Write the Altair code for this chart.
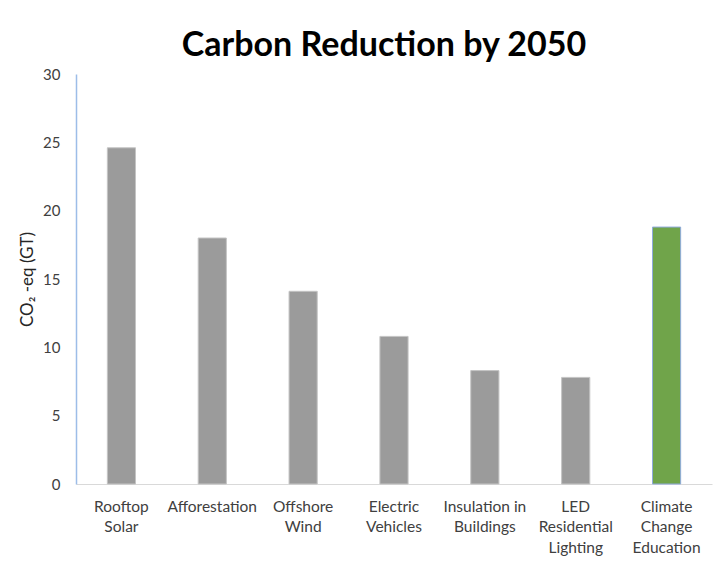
import altair as alt
import pandas as pd

categories = [
    "Rooftop|Solar",
    "Afforestation",
    "Offshore|Wind",
    "Electric|Vehicles",
    "Insulation in|Buildings",
    "LED|Residential|Lighting",
    "Climate|Change|Education",
]
values = [24.6, 18.0, 14.1, 10.8, 8.3, 7.8, 18.8]
groups = ["other", "other", "other", "other", "other", "other", "education"]
y_ticks = [0, 5, 10, 15, 20, 25, 30]

df = pd.DataFrame({"solution": categories, "co2": values, "group": groups})

FONT = "Lato"

chart = (
    alt.Chart(df)
    .mark_bar(strokeWidth=1)
    .encode(
        x=alt.X(
            "solution:N",
            sort=None,
            scale=alt.Scale(paddingInner=0.69, paddingOuter=0.345),
            axis=alt.Axis(
                title=None,
                labelAngle=0,
                labelExpr="split(datum.label, '|')",
                labelLineHeight=20.5,
                labelPadding=15,
                labelBaseline="top",
                labelOverlap=False,
                ticks=False,
                domainColor="#D9D9D9",
                domainWidth=1,
                labelFontSize=15.5,
                labelColor="#404040",
                labelFont=FONT,
            ),
        ),
        y=alt.Y(
            "co2:Q",
            scale=alt.Scale(domain=[0, 30], nice=False),
            axis=alt.Axis(
                title="CO₂ -eq (GT)",
                values=y_ticks,
                grid=False,
                ticks=False,
                domainColor="#9DBDE8",
                domainWidth=1.5,
                labelPadding=16,
                labelFontSize=15,
                labelColor="#404040",
                labelFont=FONT,
                titleFont=FONT,
                titleFontSize=17,
                titleFontWeight="normal",
                titleColor="#262626",
                titleX=-49,
                titleY=205,
                titleAngle=270,
                titleAlign="center",
                titleBaseline="middle",
            ),
        ),
        color=alt.Color(
            "group:N",
            scale=alt.Scale(domain=["other", "education"], range=["#9B9B9B", "#70A44A"]),
            legend=None,
        ),
        stroke=alt.Stroke(
            "group:N",
            scale=alt.Scale(domain=["other", "education"], range=["#C4C4C4", "#8FAADC"]),
            legend=None,
        ),
    )
    .properties(
        width=636,
        height=410,
        padding={"left": 68, "top": 66, "right": 7, "bottom": 77},
        autosize=alt.AutoSizeParams(type="none"),
        title=alt.TitleParams(
            "Carbon Reduction by 2050",
            font=FONT,
            fontSize=34,
            fontWeight="bold",
            color="#000000",
            anchor="middle",
            baseline="alphabetic",
            offset=12,
            dx=-10,
            dy=35,
        ),
    )
    .configure_view(stroke=None)
)

chart.save("out.html", embed_options={"renderer": "svg", "actions": False})
